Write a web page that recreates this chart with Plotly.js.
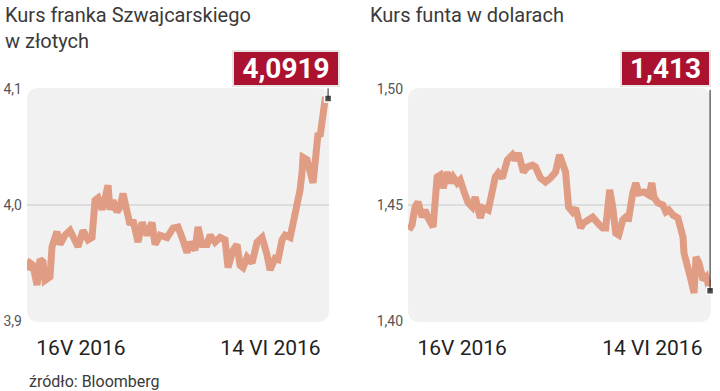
<!DOCTYPE html>
<html><head><meta charset="utf-8">
<script src="https://cdn.plot.ly/plotly-3.0.1.min.js"></script>
<style>html,body{margin:0;padding:0;background:#fff}#chart{width:720px;height:391px}</style>
</head><body><div id="chart"></div>
<script>
// time in days since 2016-05-01 00:00
const chfDays = [6.74,7.20,7.66,8.27,8.73,9.19,9.49,10.26,10.57,11.33,11.79,12.56,13.32,13.93,14.55,15.31,16.08,16.69,17.15,17.61,18.22,18.68,19.14,19.44,19.90,20.51,20.97,21.43,22.04,22.50,22.96,23.73,24.34,25.11,25.87,26.33,27.10,28.17,29.09,29.85,30.46,31.23,31.69,32.45,32.91,33.52,34.29,34.75,35.51,36.28,37.04,37.50,38.27,38.88,39.34,39.80,40.41,41.18,41.94,42.71,43.47,43.93,44.70,45.16,45.77,46.23,47.00,47.45,48.06,48.52,48.83,48.98,49.59,50.05,50.51,50.82,51.28,51.58,52.04,52.35,52.81];
const chfPln = [3.944,3.950,3.948,3.931,3.953,3.951,3.935,3.938,3.964,3.977,3.966,3.974,3.978,3.970,3.964,3.978,3.970,3.972,4.004,4.006,3.996,4.006,4.017,3.996,4.004,3.994,3.998,4.010,3.997,3.983,3.987,3.968,3.985,3.974,3.985,3.966,3.974,3.972,3.980,3.981,3.972,3.959,3.968,3.961,3.981,3.966,3.966,3.974,3.968,3.972,3.970,3.946,3.961,3.966,3.948,3.946,3.955,3.950,3.968,3.972,3.957,3.944,3.954,3.953,3.970,3.974,3.972,3.983,4.003,4.013,4.028,4.041,4.039,4.026,4.019,4.036,4.062,4.059,4.082,4.091,4.0919];
const gbpDays = [6.89,7.35,7.81,8.27,8.88,9.34,9.80,10.57,11.18,11.64,12.10,12.71,13.17,13.63,14.24,14.70,15.46,15.92,16.53,16.99,17.76,18.22,18.98,19.60,20.05,20.51,21.13,21.89,22.66,23.12,23.58,24.34,24.95,25.72,26.18,26.94,27.71,28.47,29.24,29.85,30.46,30.77,31.23,31.84,32.30,33.06,33.52,34.29,34.90,35.67,36.43,36.89,37.50,37.96,38.42,38.88,39.49,39.95,40.41,41.02,41.48,41.94,42.71,43.47,43.93,44.24,44.85,45.61,46.07,46.53,47.15,47.91,48.68,48.83,49.44,49.90,50.36,50.67,51.12,51.74,52.20,52.81];
const gbpUsd = [1.4392,1.4414,1.4491,1.4513,1.4448,1.4478,1.4444,1.4405,1.4621,1.4629,1.4573,1.4642,1.4595,1.4621,1.4595,1.4608,1.4543,1.4509,1.4491,1.4534,1.4444,1.4487,1.4478,1.4556,1.4621,1.4638,1.4616,1.4694,1.4716,1.4694,1.4724,1.4642,1.4664,1.4672,1.4664,1.4616,1.4599,1.4616,1.4642,1.4716,1.4664,1.4642,1.4491,1.4470,1.4487,1.4401,1.4422,1.4435,1.4448,1.4422,1.4401,1.4401,1.4565,1.4491,1.4379,1.4371,1.4435,1.4448,1.4444,1.4552,1.4595,1.4552,1.4556,1.4543,1.4595,1.4534,1.4509,1.4500,1.4470,1.4478,1.4457,1.4444,1.4362,1.4293,1.4207,1.4177,1.4121,1.4276,1.4250,1.4177,1.4190,1.4130];
const tickDays = [15, 44];
const tickLabels = ['16V 2016', '14 VI 2016'];
const xRangeDays = [6.74, 52.95];
const chfTicks = [3.9, 4.0, 4.1];
const gbpTicks = [1.40, 1.45, 1.50];
const titleLeft = 'Kurs franka Szwajcarskiego<br>w złotych';
const titleRight = 'Kurs funta w dolarach';
const sourceText = 'źródło: Bloomberg';

function toDate(d){
  return new Date(Date.UTC(2016,4,1) + d*86400000).toISOString().slice(0,19).replace('T',' ');
}
const W = 720, H = 391;
const LINE = '#E09D84';
const px = v => v / W, py = v => 1 - v / H;

function roundRect(x0, y0, x1, y1, r){
  const rx = r / W, ry = r / H;
  const X0 = px(x0), X1 = px(x1), Y0 = py(y0), Y1 = py(y1);
  return `M${X0+rx},${Y0} L${X1-rx},${Y0} Q${X1},${Y0} ${X1},${Y0-ry} L${X1},${Y1+ry} Q${X1},${Y1} ${X1-rx},${Y1} L${X0+rx},${Y1} Q${X0},${Y1} ${X0},${Y1+ry} L${X0},${Y0-ry} Q${X0},${Y0} ${X0+rx},${Y0} Z`;
}

const chfX = chfDays.map(toDate), gbpX = gbpDays.map(toDate);
const lastChf = chfPln[chfPln.length-1], lastGbp = gbpUsd[gbpUsd.length-1];
const lastChfX = chfX[chfX.length-1], lastGbpX = gbpX[gbpX.length-1];

const traces = [
  {x: chfX, y: chfPln, xaxis:'x', yaxis:'y', mode:'lines', line:{color:LINE, width:7}, hoverinfo:'skip'},
  {x: gbpX, y: gbpUsd, xaxis:'x2', yaxis:'y2', mode:'lines', line:{color:LINE, width:7}, hoverinfo:'skip'},
  {x: [lastChfX], y: [lastChf], xaxis:'x', yaxis:'y', mode:'markers', cliponaxis:false,
   marker:{symbol:'square', size:7, color:'#4a4a4a', line:{color:'#fff', width:1.5}}},
  {x: [lastGbpX], y: [lastGbp], xaxis:'x2', yaxis:'y2', mode:'markers', cliponaxis:false,
   marker:{symbol:'square', size:7, color:'#4a4a4a', line:{color:'#fff', width:1.5}}}
];

const tickFontY = {family:'Roboto', size:14, color:'#555'};
const tickFontX = {family:'Roboto', size:21, color:'#222'};
const xCommon = {type:'date', range: xRangeDays.map(toDate), tickvals: tickDays.map(toDate), ticktext: tickLabels,
  showgrid:false, zeroline:false, showline:false, ticks:'', tickfont: tickFontX, ticklabelstandoff: 12, fixedrange:true};

const layout = {
  width: W, height: H, margin:{l:0, r:0, t:0, b:0}, showlegend:false,
  paper_bgcolor:'#fff', plot_bgcolor:'rgba(0,0,0,0)', separators:', ',
  xaxis: Object.assign({domain:[px(27), px(329)], anchor:'y'}, xCommon),
  xaxis2: Object.assign({domain:[px(408), px(711)], anchor:'y2'}, xCommon),
  yaxis: {domain:[py(321), py(89)], range:[3.9, 4.1], tickvals: chfTicks, tickformat:'.1f', showgrid:false, zeroline:false,
    ticks:'', tickfont: tickFontY, ticklabelstandoff: 4, anchor:'x', fixedrange:true},
  yaxis2: {domain:[py(321), py(89)], range:[1.40, 1.50], tickvals: gbpTicks, tickformat:'.2f', showgrid:false, zeroline:false,
    ticks:'', tickfont: tickFontY, ticklabelstandoff: 4, anchor:'x2', fixedrange:true},
  shapes: [
    {type:'path', xref:'paper', yref:'paper', path: roundRect(27, 88, 329, 322, 12), fillcolor:'#F1F1F2', line:{width:0}, layer:'below'},
    {type:'path', xref:'paper', yref:'paper', path: roundRect(408, 88, 711, 322, 12), fillcolor:'#F1F1F2', line:{width:0}, layer:'below'},
    {type:'line', xref:'x domain', yref:'y', x0:0, x1:1, y0:chfTicks[1], y1:chfTicks[1], line:{color:'#c9c9c9', width:1}, layer:'below'},
    {type:'line', xref:'x2 domain', yref:'y2', x0:0, x1:1, y0:gbpTicks[1], y1:gbpTicks[1], line:{color:'#c9c9c9', width:1}, layer:'below'}
  ],
  annotations: [
    {xref:'paper', yref:'paper', x: px(3), y: py(1), xanchor:'left', yanchor:'top', align:'left', showarrow:false,
     text: titleLeft, font:{family:'Roboto', size:20, color:'#3a3a3a'}},
    {xref:'paper', yref:'paper', x: px(368), y: py(1), xanchor:'left', yanchor:'top', align:'left', showarrow:false,
     text: titleRight, font:{family:'Roboto', size:20, color:'#3a3a3a'}},
    {xref:'paper', yref:'paper', x: px(27), y: py(381), xanchor:'left', yanchor:'middle', showarrow:false,
     text: sourceText, font:{family:'Roboto', size:16, color:'#3a3a3a'}},
    {xref:'x', yref:'y', x: lastChfX, y: lastChf, text:' ', font:{size:1}, showarrow:true, arrowhead:0, arrowwidth:1, arrowcolor:'#222', ax:0, ay:-12, standoff:0},
    {xref:'x2', yref:'y2', x: lastGbpX, y: lastGbp, text:' ', font:{size:1}, showarrow:true, arrowhead:0, arrowwidth:1, arrowcolor:'#222', ax:0, ay:-203, standoff:0},
    {xref:'paper', yref:'paper', x: px(286), y: py(68.5), xanchor:'center', yanchor:'middle', showarrow:false,
     text: '<b>' + lastChf.toFixed(4).replace('.', ',') + '</b>', font:{family:'Roboto', size:28, color:'#fff'},
     bgcolor:'#AB1230', bordercolor:'#e6e6e6', borderwidth:2, borderpad:0, width:104, height:33},
    {xref:'paper', yref:'paper', x: px(665.5), y: py(68.5), xanchor:'center', yanchor:'middle', showarrow:false,
     text: '<b>' + lastGbp.toFixed(3).replace('.', ',') + '</b>', font:{family:'Roboto', size:28, color:'#fff'},
     bgcolor:'#AB1230', bordercolor:'#e6e6e6', borderwidth:2, borderpad:0, width:87, height:33}
  ]
};
Plotly.newPlot('chart', traces, layout, {staticPlot:true, displayModeBar:false});
</script></body></html>
